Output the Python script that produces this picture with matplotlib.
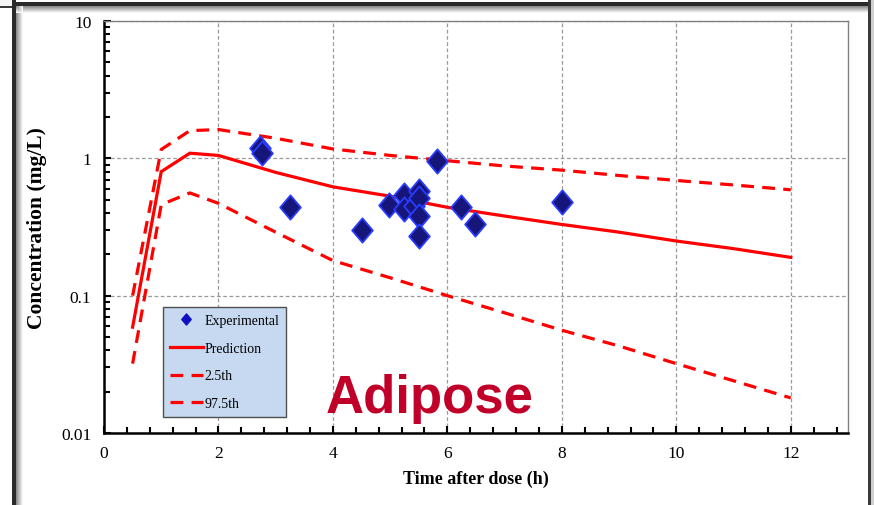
import numpy as np
import matplotlib
matplotlib.use('Agg')
import matplotlib.pyplot as plt
from matplotlib.lines import Line2D
from matplotlib.patches import Rectangle
from matplotlib.path import Path
from matplotlib.ticker import FixedLocator, MultipleLocator, LogLocator, NullFormatter

plt.rcParams['font.family'] = ['Liberation Serif', 'DejaVu Serif']

# 模型预测（中位数及 2.5th / 97.5th 百分位）
time_pred = [0.5, 1, 1.5, 2, 3, 4, 5, 6, 7, 8, 9, 10, 11, 12]
pred_median = [0.059, 0.80, 1.09, 1.05, 0.79, 0.62, 0.53, 0.44, 0.38, 0.33, 0.29, 0.25, 0.22, 0.19]
pred_upper = [0.10, 1.16, 1.59, 1.62, 1.40, 1.17, 1.05, 0.96, 0.88, 0.82, 0.75, 0.69, 0.64, 0.59]
pred_lower = [0.032, 0.46, 0.56, 0.47, 0.29, 0.18, 0.135, 0.10, 0.075, 0.056, 0.043, 0.032, 0.024, 0.018]

# 实验数据
time_obs = [2.72, 2.76, 3.25, 4.50, 4.98, 5.24, 5.24, 5.42, 5.50, 5.50, 5.50, 5.50, 5.82, 6.24, 6.49, 8.0]
conc_obs = [1.18, 1.10, 0.44, 0.30, 0.46, 0.54, 0.43, 0.45, 0.58, 0.51, 0.38, 0.27, 0.96, 0.44, 0.33, 0.48]

W, H = 874, 506
fig = plt.figure(figsize=(W / 100, H / 100), dpi=100)


def px_rect(x, y, w, h, color, z=0):
    # 像素坐标（左上原点）画矩形
    fig.add_artist(Rectangle((x / W, 1 - (y + h) / H), w / W, h / H,
                             transform=fig.transFigure, facecolor=color,
                             edgecolor='none', zorder=z))


# 窗口边框 + 阴影
for i, g in enumerate(np.linspace(0.55, 0.97, 7)):
    px_rect(16 + i, 7, 1, H, str(g))
    px_rect(16, 7 + i, 852, 1, str(g))
px_rect(12, 0, 4, H, '#2a2a2a')
px_rect(12, 3, 856, 4, '#2a2a2a')
px_rect(868, 0, 3, H, '#3a3a3a')
px_rect(871, 0, 3, H, '#d0d0d0')
px_rect(0, 7, 12, 2, '#3a3a3a')
px_rect(0, 0, 12, 9, '#f4f4f4', z=-1)

ax = fig.add_axes([104 / W, 1 - 434 / H, 744 / W, 412 / H])
ax.set_yscale('log')
ax.set_xlim(0, 13)
ax.set_ylim(0.01, 10)

ax.grid(True, which='major', color='#9a9a9a', linestyle=(0, (3, 2)), linewidth=0.9)
ax.set_axisbelow(True)

ax.plot(time_pred, pred_median, color='#ff0000', lw=2.3, solid_joinstyle='miter', zorder=3)
ax.plot(time_pred, pred_upper, color='#ff0000', lw=2.3, linestyle=(0, (4, 2.6)), zorder=3)
ax.plot(time_pred, pred_lower, color='#ff0000', lw=2.3, linestyle=(0, (4, 2.6)), zorder=3)

diamond = Path([(0, 1), (0.85, 0), (0, -1), (-0.85, 0), (0, 1)],
               [Path.MOVETO, Path.LINETO, Path.LINETO, Path.LINETO, Path.CLOSEPOLY])
ax.plot(time_obs, conc_obs, linestyle='none', marker=diamond, markersize=17.5,
        markerfacecolor='#15157a', markeredgecolor='#2a3cff', markeredgewidth=1.3, zorder=4)

# 坐标轴样式
for side in ['top', 'right']:
    ax.spines[side].set_color('#808080')
    ax.spines[side].set_linewidth(1.0)
for side in ['left', 'bottom']:
    ax.spines[side].set_color('black')
    ax.spines[side].set_linewidth(1.8)

ax.xaxis.set_major_locator(FixedLocator([0, 2, 4, 6, 8, 10, 12]))
ax.xaxis.set_minor_locator(MultipleLocator(0.4))
ax.yaxis.set_major_locator(FixedLocator([0.01, 0.1, 1, 10]))
ax.yaxis.set_minor_locator(LogLocator(base=10, subs=np.arange(2, 10)))
ax.yaxis.set_minor_formatter(NullFormatter())
ax.set_yticklabels(['0.01', '0.1', '1', '10'])
ax.tick_params(which='both', direction='in', top=False, right=False, labelsize=12.5, width=1.5)
ax.tick_params(which='major', length=5, pad=9)
ax.tick_params(which='minor', length=4)

ax.set_xlabel('Time after dose (h)', fontsize=13, fontweight='bold', labelpad=6)
ax.set_ylabel('Concentration (mg/L)', fontsize=15.5, fontweight='bold', labelpad=10)

handles = [
    Line2D([], [], linestyle='none', marker=diamond, markersize=8,
           markerfacecolor='#1010c0', markeredgecolor='#1010c0'),
    Line2D([], [], color='#ff0000', lw=2.3),
    Line2D([], [], color='#ff0000', lw=2.3, linestyle=(0, (4, 2.6))),
    Line2D([], [], color='#ff0000', lw=2.3, linestyle=(0, (4, 2.6))),
]
leg = ax.legend(handles, ['Experimental', 'Prediction', '2.5th', '97.5th'],
                loc='lower left', bbox_to_anchor=(0.079, 0.039), fontsize=10,
                frameon=True, fancybox=False, framealpha=1, labelspacing=1.05,
                handlelength=2.4, handletextpad=0.1, borderpad=0.5, borderaxespad=0)
leg.get_frame().set_facecolor('#c6d9f1')
leg.get_frame().set_edgecolor('#505050')
leg.get_frame().set_linewidth(1.0)

fig.text(430 / W, 1 - 413 / H, 'Adipose', family=['Liberation Sans', 'DejaVu Sans'],
         fontsize=38, fontweight='bold', color='#c00028', ha='center', va='baseline')

fig.savefig('out.png', dpi=100)
